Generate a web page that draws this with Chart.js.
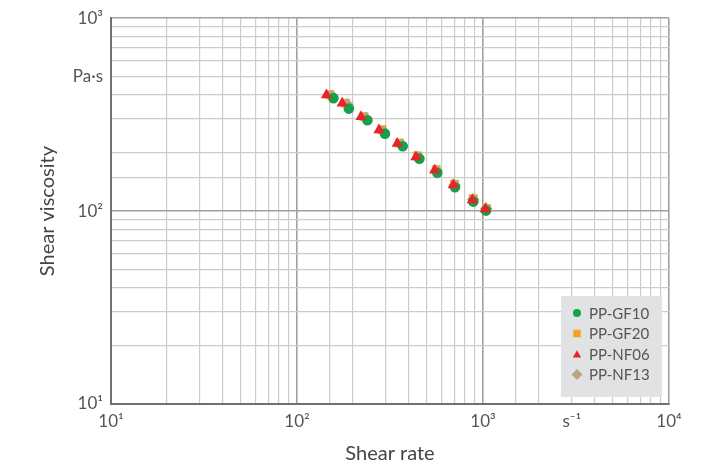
<!DOCTYPE html>
<html><head><meta charset="utf-8">
<script src="https://cdn.jsdelivr.net/npm/chart.js@4"></script>
<style>html,body{margin:0;padding:0;background:#fff}#w{width:713px;height:466px}</style>
</head><body><div id="w"><canvas id="c"></canvas></div>
<script>
const seriesNames = ['PP-GF10','PP-GF20','PP-NF06','PP-NF13'];
const gf10X = [157,190,239,297,370,455,568,707,887,1038];
const gf10Y = [385,340,296,252,217,187,158,133,112,100.6];
const gf20X = [150,182,229,286,356,445,560,702,886,1045];
const gf20Y = [401,363,309,264,225,193,164,138,116,103];
const nf06X = [144,175,221,276,346,436,550,692,876,1029];
const nf06Y = [400,362,308,263,224,191,163,136.5,114,102.6];
const nf13X = [154,187,234,292,364,449,562,704,885,1040];
const nf13Y = [396,357,304,259,221,190,162,136,115,103];
const xTickLabels = {10:'10¹',100:'10²',1000:'10³',3000:'s⁻¹',10000:'10⁴'};
const yTickLabels = {10:'10¹',100:'10²',500:'Pa·s',1000:'10³'};
const xTitle = 'Shear rate';
const yTitle = 'Shear viscosity';

const pts = (xs, ys) => xs.map((x, i) => ({x: x, y: ys[i]}));
const styles = [
  {c:'#16a04a', s:'circle', r:5.3, lr:4, order:1},
  {c:'#f6a21c', s:'rect', r:6.3, lr:5.3, order:3},
  {c:'#e8232a', s:'triangle', r:6.5, lr:4.8, order:0},
  {c:'#b9a584', s:'rectRot', r:6.3, lr:5.5, order:2}
];
const allData = [pts(gf10X,gf10Y), pts(gf20X,gf20Y), pts(nf06X,nf06Y), pts(nf13X,nf13Y)];
const datasets = seriesNames.map((n, i) => ({
  label: n, data: allData[i], showLine: false,
  pointStyle: styles[i].s, pointRadius: styles[i].r,
  backgroundColor: styles[i].c, borderColor: styles[i].c, borderWidth: 0,
  order: styles[i].order
}));

const isMajor = v => Math.abs(Math.log10(v) - Math.round(Math.log10(v))) < 1e-6;
const gridColor = ctx => (ctx.tick && isMajor(ctx.tick.value)) ? '#a0a0a0' : '#cccccc';
const gridWidth = ctx => (ctx.tick && isMajor(ctx.tick.value)) ? 1.6 : 1.2;
const font = {family: 'Lato', size: 17};

const legendPlugin = {
  id: 'boxLegend',
  afterDatasetsDraw(chart) {
    const c = chart.ctx;
    const x0 = 561, y0 = 296, w = 101, h = 101;
    c.save();
    c.fillStyle = '#e1e2e4';
    c.fillRect(x0, y0, w, h);
    c.font = '15px Lato';
    c.textBaseline = 'middle';
    seriesNames.forEach((n, i) => {
      const y = y0 + 17 + i * 20.5;
      c.fillStyle = styles[i].c;
      c.beginPath();
      Chart.helpers.drawPoint(c, {pointStyle: styles[i].s, radius: styles[i].lr, borderWidth: 0}, 577, y + (i === 2 ? 1 : 0));
      c.fillStyle = '#555';
      c.fillText(n, 589, y + 1);
    });
    c.restore();
  }
};

new Chart(document.getElementById('c'), {
  type: 'scatter',
  data: {datasets},
  plugins: [legendPlugin],
  options: {
    responsive: true, maintainAspectRatio: false, animation: false,
    layout: {padding: {left: 0, right: 44, top: 17, bottom: 0}},
    plugins: {legend: {display: false}, tooltip: {enabled: false}},
    scales: {
      x: {
        type: 'logarithmic', min: 10, max: 10000,
        afterFit: s => { s.height = 62; },
        grid: {color: gridColor, lineWidth: gridWidth, drawTicks: false},
        border: {display: true, color: '#707070', width: 2},
        ticks: {autoSkip: false, maxRotation: 0, padding: 7, color: '#555', font,
          callback: v => xTickLabels[Math.round(v)] || ''},
        title: {display: true, text: xTitle, color: '#444', font: {family: 'Lato', size: 20}, padding: {top: 0, bottom: 0}}
      },
      y: {
        type: 'logarithmic', min: 10, max: 1000,
        afterFit: s => { s.width = 111; },
        grid: {color: gridColor, lineWidth: gridWidth, drawTicks: false},
        border: {display: true, color: '#707070', width: 2},
        ticks: {autoSkip: false, padding: 8, color: '#555', font,
          callback: v => yTickLabels[Math.round(v)] || ''},
        title: {display: true, text: yTitle, color: '#444', font: {family: 'Lato', size: 20}, padding: {top: 36, bottom: 0}}
      }
    }
  }
});
</script></body></html>
